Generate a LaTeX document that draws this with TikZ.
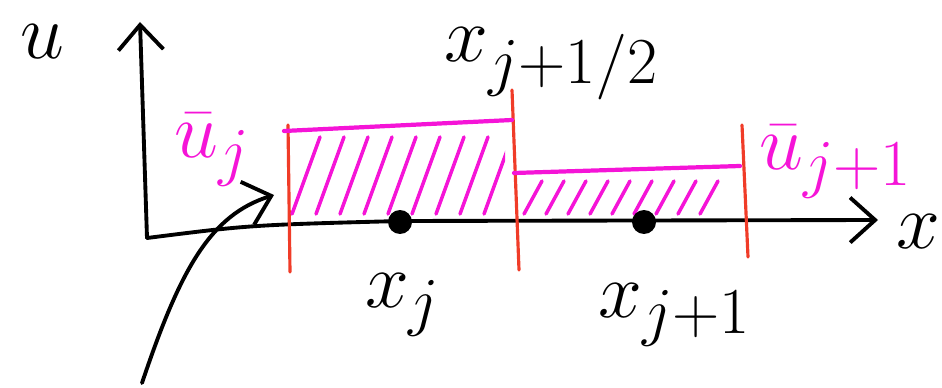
\documentclass[tikz,border=0pt]{standalone}
\usepackage{amsmath}
\usepackage{xcolor}
\usetikzlibrary{calc, arrows.meta, positioning}
\definecolor{pen}{RGB}{245,20,215}
\definecolor{redline}{RGB}{240,60,40}
\tikzset{
  axis/.style={-{Straight Barb[length=5mm,width=9mm]}, line width=2.2pt, line cap=round},
  cellwall/.style={line width=1.8pt, color=redline, line cap=round},
  avgline/.style={line width=2.4pt, color=pen, line cap=round},
  hatch/.style={line width=2pt, color=pen, line cap=round},
  dot/.style={circle,fill=black,inner sep=0pt,minimum width=4.2mm,minimum height=4.8mm},
  lbl/.style={font=\Huge, scale=1.8, inner sep=1pt},
  avglbl/.style={lbl, text=pen}
}

\begin{document}
\begin{tikzpicture}[x=0.02cm, y=-0.02cm]
  \useasboundingbox (0,0) rectangle (942,388);
  % axes
  \coordinate (O) at (147,238);
  \coordinate (ytop) at (140,22);
  \coordinate (xend) at (878,220);
  \draw[axis] (O) -- (ytop);
  \draw[axis] (O) .. controls (250,225) .. (400,221) -- (xend);
  \node[lbl] (ulab) at (42,42) {$u$};
  \node[lbl] (xlab) at (918,232) {$x$};
  % cell interfaces
  \coordinate (a1) at (288,125); \coordinate (a2) at (290,272);
  \coordinate (b1) at (512,90);  \coordinate (b2) at (519,270);
  \coordinate (c1) at (742,125); \coordinate (c2) at (748,257);
  \draw[cellwall] (a1) -- (a2);
  \draw[cellwall] (b1) -- (b2);
  \draw[cellwall] (c1) -- (c2);
  % cell averages
  \draw[avgline] (284,131) -- (512,120);
  \draw[avgline] (514,173) -- (740,166);
  \begin{scope}
    \clip (290,135) rectangle (505,216);
    \foreach \i in {0,...,8}
      \draw[hatch] ({292+24*\i},214) -- ({320+24*\i},137);
  \end{scope}
  \begin{scope}
    \clip (520,178) rectangle (725,216);
    \foreach \i in {0,...,8}
      \draw[hatch] ({524+22*\i},214) -- ({542+22*\i},181);
  \end{scope}
  % grid points
  \node[dot] (xj) at (400,222) {};
  \node[dot] (xjj) at (644,222) {};
  \node[lbl] (xjlab) at (403,305) {$x_j$};
  \node[lbl] (xjjlab) at (675,315) {$x_{j+1}$};
  \node[lbl] (xhalf) at (552,64) {$x_{j+1/2}$};
  \node[avglbl] (ujlab) at (212,150) {$\bar u_j$};
  \node[avglbl] (ujjlab) at (836,162) {$\bar u_{j+1}$};
  % pointer
  \coordinate (tail) at (142,383);
  \coordinate (head) at (274,195);
  \draw[axis] (tail) .. controls (180,270) and (210,215) .. (head);
\end{tikzpicture}
\end{document}
